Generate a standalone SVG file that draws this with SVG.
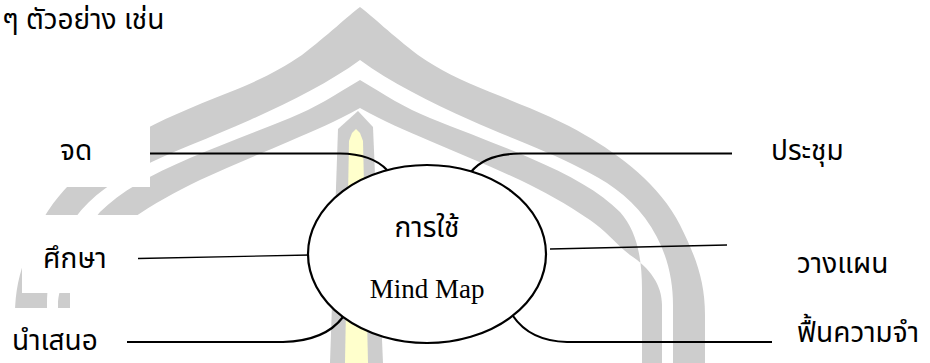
<svg xmlns="http://www.w3.org/2000/svg" xmlns:xlink="http://www.w3.org/1999/xlink" width="930" height="363" viewBox="0 0 930 363">
<style>
.wm{fill:#cdcdcd;stroke:none}
.pillarY{fill:#ffffcc;stroke:none}
.mask{fill:#ffffff;stroke:none}
.th{font-family:'Noto Sans Thai','Noto Sans',Tahoma,sans-serif;font-size:28px;font-weight:400;fill:#000}
.en{font-family:'Liberation Serif','Times New Roman',serif;font-size:27px;fill:#000}
.thick{fill:none;stroke:#000;stroke-width:2.2}
.thin{fill:none;stroke:#000;stroke-width:1.3}
.node{fill:#fff;stroke:#000;stroke-width:2.2}
</style>
<defs>
<g id="halfArch">
<path d="M360,7 C372,16 392,35 418,55 C440,70 460,80 490,92 C530,108 560,120 585,135 C620,155 660,185 680,225 C695,255 705,280 705,315 L705,363 L673,363 L673,305 C673,275 665,245 645,218 C628,195 605,180 580,168 C550,152 510,138 470,120 C430,102 390,82 360,60 Z"/>
<path d="M360,80 C385,95 405,108 430,118 C465,132 500,145 530,158 C570,175 600,192 620,212 C636,230 642,255 642,290 L642,363 L662,363 L662,305 C662,285 650,268 630,255 C615,243 605,230 590,220 C565,203 545,192 520,180 C490,166 460,154 430,141 C405,130 385,122 360,108 Z"/>
</g>
</defs>
<rect width="930" height="363" fill="#ffffff"/>
<g id="watermark">
<use xlink:href="#halfArch" class="wm"/>
<use xlink:href="#halfArch" class="wm" transform="translate(720,0) scale(-1,1)"/>
<polygon class="wm" points="338,129 358,111 373,127 383,363 330,363"/>
<polygon class="pillarY" points="349,141 352,133 356,129 360,133 363,141 368,363 345,363"/>
<rect class="mask" x="0" y="110" width="150" height="77"/>
<rect class="mask" x="22" y="215" width="180" height="78"/>
<rect class="mask" x="70" y="293" width="130" height="15"/>
<rect class="mask" x="0" y="308" width="200" height="55"/>
</g>
<g id="intro">
<text class="th" x="2" y="29">ๆ ตัวอย่าง เช่น</text>
</g>
<g id="connectors">
<path class="thick" d="M150,153.5 L340,153.5 Q372,154 387,170"/>
<path class="thick" d="M471,172 Q485,154 520,153.5 L732,153.5"/>
<path class="thin" d="M138,258.5 L310,255"/>
<path class="thin" d="M550,249 L727,245"/>
<path class="thick" d="M127,342 L283,342 Q325,341 343,317"/>
<path class="thick" d="M513,316 Q530,341 567,342 L772,342"/>
</g>
<g id="node-center">
<ellipse class="node" cx="427" cy="254" rx="119" ry="89"/>
<text class="th" x="427" y="237" text-anchor="middle">การใช้</text>
<text class="en" x="427" y="298" text-anchor="middle">Mind Map</text>
</g>
<g id="node-jot"><text class="th" x="60" y="160">จด</text></g>
<g id="node-study"><text class="th" x="43" y="268">ศึกษา</text></g>
<g id="node-present"><text class="th" x="12" y="350">นำเสนอ</text></g>
<g id="node-meeting"><text class="th" x="771" y="160">ประชุม</text></g>
<g id="node-plan"><text class="th" x="797" y="273">วางแผน</text></g>
<g id="node-recall"><text class="th" x="797" y="342">ฟื้นความจำ</text></g>
</svg>
